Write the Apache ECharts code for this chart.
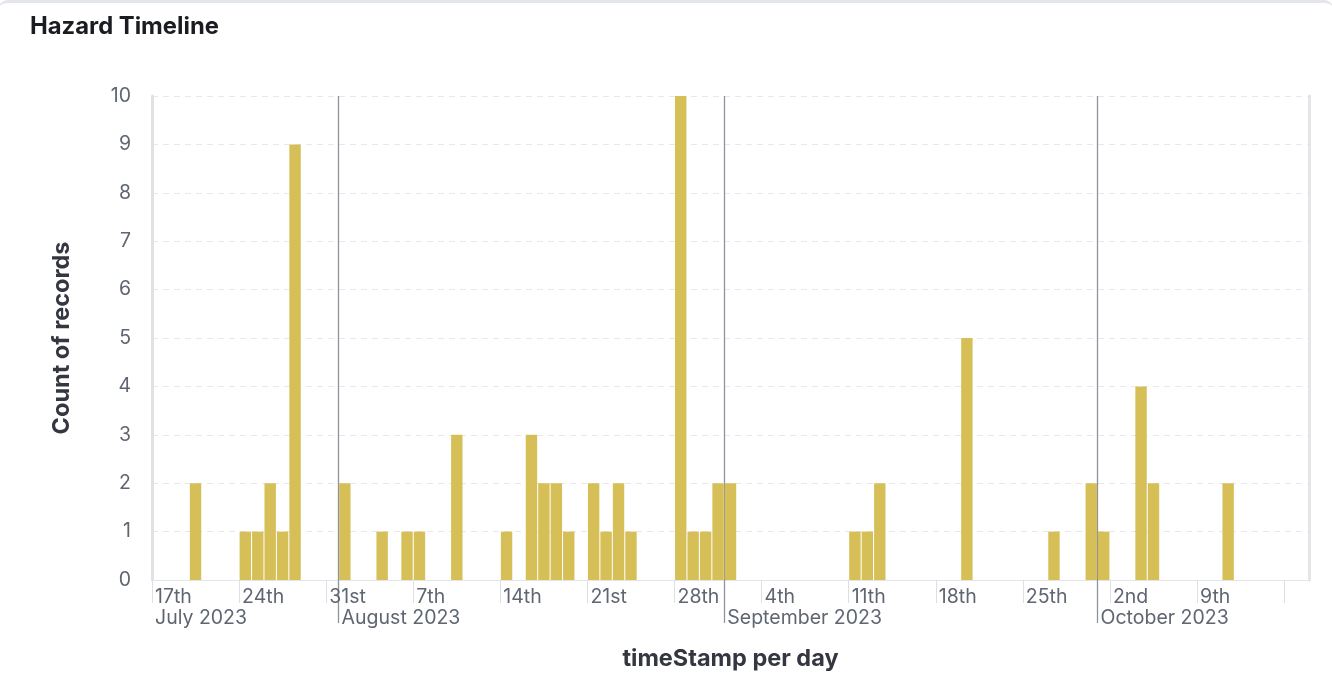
<!DOCTYPE html>
<html><head><meta charset="utf-8">
<script src="https://cdn.jsdelivr.net/npm/echarts@6/dist/echarts.min.js"></script>
<style>
html,body{margin:0;padding:0;background:#fff;width:1332px;height:692px;overflow:hidden}
#c{position:absolute;left:0;top:0;width:1332px;height:692px}
.frame{position:absolute;left:-2px;top:0;width:1336px;height:700px;border-top:3px solid #e3e6ea;border-radius:10px;box-sizing:border-box;pointer-events:none}
</style></head><body><div id="c"></div><div class="frame"></div>
<script>
const chartTitle = 'Hazard Timeline';
const yAxisName = 'Count of records';
const xAxisName = 'timeStamp per day';

const dates = ['2023-07-20','2023-07-24','2023-07-25','2023-07-26','2023-07-27','2023-07-28',
  '2023-08-01','2023-08-04','2023-08-06','2023-08-07','2023-08-10','2023-08-14',
  '2023-08-16','2023-08-17','2023-08-18','2023-08-19','2023-08-21','2023-08-22','2023-08-23','2023-08-24',
  '2023-08-28','2023-08-29','2023-08-30','2023-08-31','2023-09-01',
  '2023-09-11','2023-09-12','2023-09-13','2023-09-20','2023-09-27','2023-09-30','2023-10-01',
  '2023-10-04','2023-10-05','2023-10-11'];
const counts = [2,1,1,2,1,9,
  2,1,1,1,3,1,
  3,2,2,1,2,1,2,1,
  10,1,1,2,2,
  1,1,2,5,1,2,1,
  4,2,2];

const weekTicks = ['2023-07-17','2023-07-24','2023-07-31','2023-08-07','2023-08-14','2023-08-21','2023-08-28',
  '2023-09-04','2023-09-11','2023-09-18','2023-09-25','2023-10-02','2023-10-09','2023-10-16'];
const weekLabels = ['17th','24th','31st','7th','14th','21st','28th','4th','11th','18th','25th','2nd','9th',''];
const monthStarts = ['2023-07-17','2023-08-01','2023-09-01','2023-10-01'];
const monthLabels = ['July 2023','August 2023','September 2023','October 2023'];
const xMin = '2023-07-17';
const xMax = '2023-10-18';
const yMin = 0, yMax = 10, yStep = 1;

const ts = s => Date.UTC(+s.slice(0,4), +s.slice(5,7)-1, +s.slice(8,10));
const HALF_DAY = 12*3600*1000;
const seriesData = dates.map((d,i) => [ts(d) + HALF_DAY, counts[i]]);
const weekTs = weekTicks.map(ts);
const weekMap = {}; weekTs.forEach((t,i)=>weekMap[t]=weekLabels[i]);
const monthTs = monthStarts.map(ts);
const monthMap = {}; monthTs.forEach((t,i)=>monthMap[t]=monthLabels[i]);

const FONT = 'Inter, "Noto Sans", sans-serif';
const chart = echarts.init(document.getElementById('c'), null, {renderer:'canvas'});
chart.setOption({
  animation:false,
  backgroundColor:'#fff',
  title:{text:chartTitle,left:30,top:15,padding:0,textStyle:{fontFamily:FONT,fontSize:23.8,fontWeight:700,color:'#1a1c21'}},
  grid:{left:152,right:23,top:96,bottom:112,containLabel:false},
  xAxis:[{
    type:'value',min:ts(xMin),max:ts(xMax),position:'bottom',scale:true,
    name:xAxisName,nameLocation:'middle',nameGap:67,
    nameTextStyle:{fontFamily:FONT,fontSize:23.5,fontWeight:700,color:'#343741'},
    axisLine:{show:true,onZero:false,lineStyle:{color:'#e3e5e9',width:1}},
    axisTick:{show:true,customValues:weekTs,length:23,lineStyle:{color:'#dcdfe4',width:1}},
    axisLabel:{show:true,customValues:weekTs.slice(0,13),formatter:v=>weekMap[v]||'',align:'left',margin:7,padding:[0,0,0,3],
      fontFamily:FONT,fontSize:19.5,color:'#5f6672',hideOverlap:false,showMinLabel:true,showMaxLabel:true},
    splitLine:{show:false}
  },{
    type:'value',min:ts(xMin),max:ts(xMax),position:'bottom',scale:true,
    axisLine:{show:false,onZero:false},
    axisTick:{show:true,customValues:monthTs.slice(1),length:43,lineStyle:{color:'#8f939b',width:1.3}},
    axisLabel:{show:true,customValues:monthTs,formatter:v=>monthMap[v]||'',align:'left',margin:28,padding:[0,0,0,3],
      fontFamily:FONT,fontSize:19.5,color:'#5f6672',hideOverlap:false,showMinLabel:true,showMaxLabel:true},
    splitLine:{show:true,lineStyle:{color:'#8f939b',width:1.3}}
  }],
  yAxis:[{
    type:'value',min:yMin,max:yMax,interval:yStep,position:'left',
    name:yAxisName,nameLocation:'middle',nameGap:78,
    nameTextStyle:{fontFamily:FONT,fontSize:23.5,fontWeight:700,color:'#343741'},
    axisLine:{show:true,lineStyle:{color:'#dfe1e5',width:3}},
    axisTick:{show:false},
    axisLabel:{margin:21,fontFamily:FONT,fontSize:19.5,color:'#5f6672'},
    splitLine:{show:true,lineStyle:{color:'#e6e8ec',type:[6,5],width:1}}
  },{
    type:'value',min:yMin,max:yMax,interval:yStep,position:'right',
    axisLine:{show:true,lineStyle:{color:'#e3e5e9',width:3}},
    axisTick:{show:false},axisLabel:{show:false},splitLine:{show:false}
  }],
  series:[{
    type:'bar',xAxisIndex:0,yAxisIndex:0,data:seriesData,
    barWidth:11.4,z:1,
    itemStyle:{color:'#D6BF57'}
  }]
});
</script></body></html>
